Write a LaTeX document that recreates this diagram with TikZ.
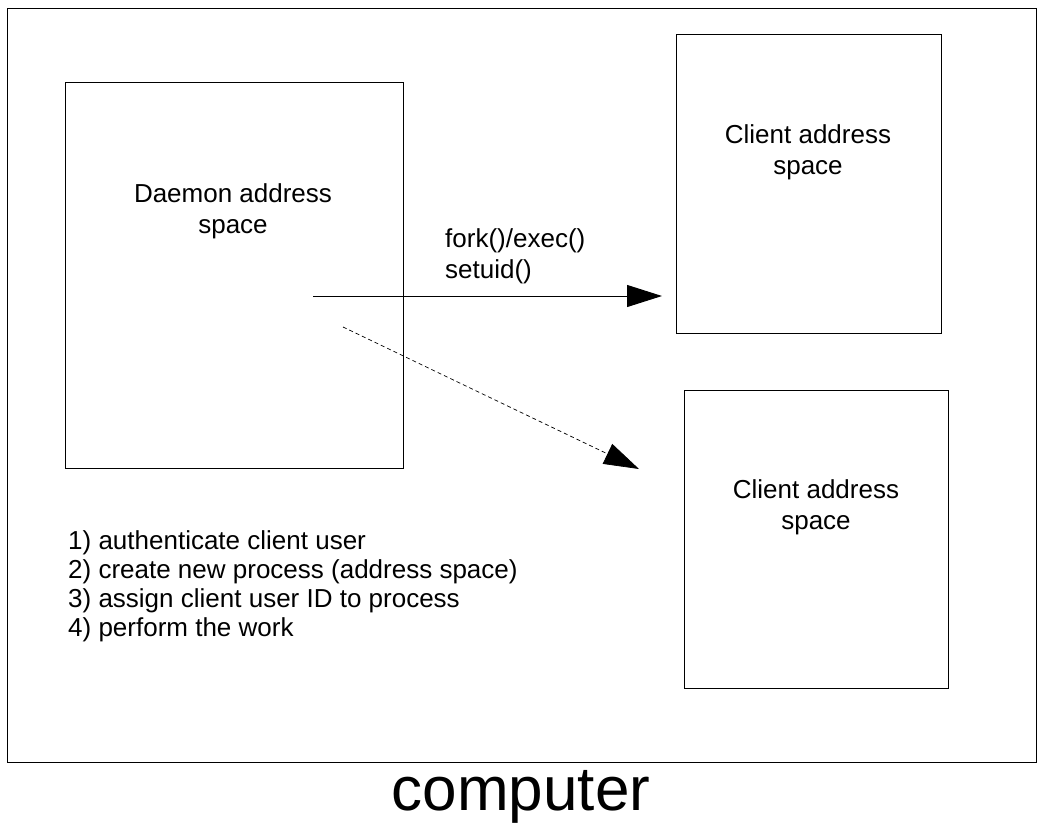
\documentclass[tikz,border=0pt]{standalone}
\usepackage{fontspec}
\setmainfont{Liberation Sans}
\usetikzlibrary{arrows.meta}
\begin{document}
\begin{tikzpicture}[x=1pt,y=-1pt,
  box/.style={draw=black,line width=1pt,inner sep=0pt},
  lbl/.style={font=\fontsize{26}{31}\selectfont,align=center,inner sep=0pt},
  conn/.style={line width=1pt,-{Triangle[length=35pt,width=22pt]}}]
\useasboundingbox (0,0) rectangle (1041,823);
\node[box,minimum width=1029pt,minimum height=754pt] (computer) at (522,385) {};
\node[box,minimum width=338pt,minimum height=386pt] (daemon) at (234,275) {};
\node[box,minimum width=265pt,minimum height=299pt] (client1) at (808.5,183.5) {};
\node[box,minimum width=264pt,minimum height=298pt] (client2) at (816,539) {};
\node[lbl] (dtext) at (233,211) {Daemon address\\space};
\node[lbl] (c1text) at (808,152) {Client address\\space};
\node[lbl] (c2text) at (816,507) {Client address\\space};
\node[lbl,align=left,anchor=west] (calls) at (445,256) {fork()/exec()\\setuid()};
\node[lbl,align=left,anchor=north west,font=\fontsize{26}{29}\selectfont] (steps) at (68,530) {1) authenticate client user\\2) create new process (address space)\\3) assign client user ID to process\\4) perform the work};
\node[inner sep=0pt,anchor=base,font=\fontsize{62}{62}\selectfont] (ctext) at (521,810) {computer};
\coordinate (s1) at (313,296);
\coordinate (e1) at (662,296);
\coordinate (s2) at (343,327);
\coordinate (e2) at (639,469);
\draw[conn] (s1) -- (e1);
\draw[conn,dash pattern=on 4pt off 3pt,line width=0.7pt] (s2) -- (e2);
\end{tikzpicture}
\end{document}
